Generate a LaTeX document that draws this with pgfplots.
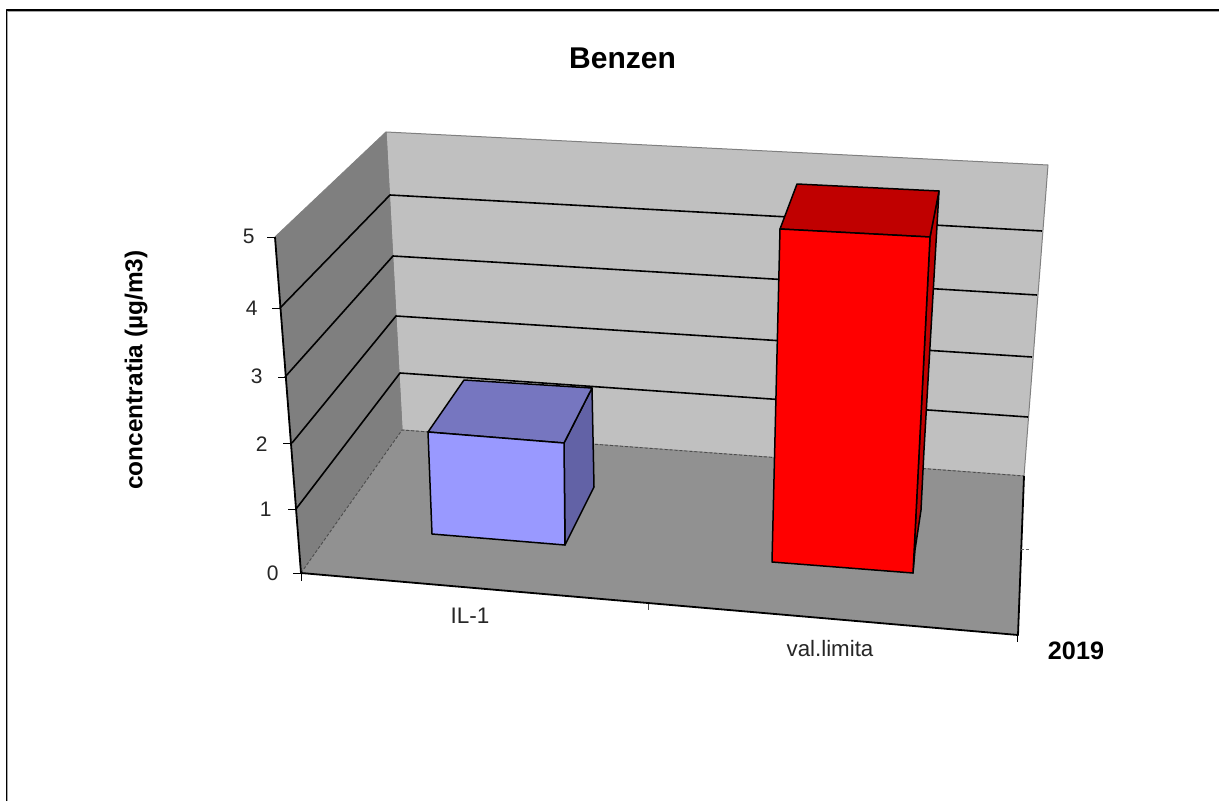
\documentclass[border=0pt]{standalone}
\usepackage{pgfplots}
\pgfplotsset{compat=1.18}
\usepackage{fontspec}
\setmainfont{Liberation Sans}
\definecolor{wallback}{HTML}{C0C0C0}
\definecolor{wallleft}{HTML}{7F7F7F}
\definecolor{floorc}{HTML}{919191}
\definecolor{blueF}{HTML}{9999FF}
\definecolor{blueT}{HTML}{7676C0}
\definecolor{blueS}{HTML}{6262A6}
\definecolor{redF}{HTML}{FF0000}
\definecolor{redT}{HTML}{C00000}
\newcommand{\fs}[1]{\fontsize{#1bp}{#1bp}\selectfont}
\begin{document}
\begin{tikzpicture}[x=1bp,y=1bp]
\begin{axis}[
  at={(0,0)}, anchor=south west,
  width=1219bp, height=801bp, scale only axis,
  xmin=0, xmax=1219, ymin=0, ymax=801, y dir=reverse,
  hide axis, clip=true,
  every axis plot/.append style={line join=round},
]
% page
\addplot[draw=none, fill=white] coordinates {(0,0)(1219,0)(1219,801)(0,801)} -- cycle;
% outer frame: open on the right and at the bottom
\addplot[gray!70, line width=1bp] coordinates {(7.7,801)(7.7,11.2)(1219,11.2)};
\addplot[black, line width=1.6bp] coordinates {(6.5,801)(6.5,10)(1219,10)};
% back wall
\addplot[draw=gray, line width=1bp, fill=wallback] coordinates {(386,132)(1048,165)(1024,476)(402,430)} -- cycle;
% left wall
\addplot[draw=gray, line width=1bp, fill=wallleft] coordinates {(275,237)(386,132)(402,430)(301,573)} -- cycle;
% floor
\addplot[draw=none, fill=floorc] coordinates {(301,573)(402,430)(1024,476)(1018,635)} -- cycle;
\addplot[black!70, line width=0.9bp, densely dashed] coordinates {(301,573)(402,430)(1024,476)};
% gridlines: back wall and left wall, levels 1..4
\addplot[black, line width=1.6bp] coordinates {(280,308)(390,195)(1042,231)};
\addplot[black, line width=1.6bp] coordinates {(285,377)(393,256)(1037,295)};
\addplot[black, line width=1.6bp] coordinates {(292,443)(396,316)(1032,357)};
\addplot[black, line width=1.6bp] coordinates {(296,509)(400,373)(1028,417)};
% axes
\addplot[black, line width=1.8bp] coordinates {(275,237)(301,573)(1018,635)(1024,476)};
% ticks
\addplot[black, line width=1bp] coordinates {(267,237)(275,237)};
\addplot[black, line width=1bp] coordinates {(272,308)(280,308)};
\addplot[black, line width=1bp] coordinates {(278,377)(285,377)};
\addplot[black, line width=1bp] coordinates {(283,443)(292,443)};
\addplot[black, line width=1bp] coordinates {(288,509)(296,509)};
\addplot[black, line width=1bp] coordinates {(293,573)(301,573)};
\addplot[black, line width=1bp] coordinates {(301,573)(301,581)};
\addplot[black!70, line width=1bp] coordinates {(648,604)(648,610)};
\addplot[black, line width=1bp] coordinates {(1017,635)(1017,642)};
\addplot[black!60, line width=0.7bp, densely dashed] coordinates {(1021,549)(1029,549)};
% IL-1 bar (about 1.5)
\addplot[draw=black, line width=1.5bp, fill=blueS] coordinates {(564,443)(592,388)(594,487)(565,545)} -- cycle;
\addplot[draw=black, line width=1.5bp, fill=blueT] coordinates {(428,432)(464,380)(592,388)(564,443)} -- cycle;
\addplot[draw=black, line width=1.5bp, fill=blueF] coordinates {(428,432)(564,443)(565,545)(432,534)} -- cycle;
% val.limita bar (5)
\addplot[draw=black, line width=1.5bp, fill=redT] coordinates {(930,237)(939,191)(924,450)(921,510)(915,550)(913,573)} -- cycle;
\addplot[draw=black, line width=1.5bp, fill=redT] coordinates {(780,229)(797,184)(939,191)(930,237)} -- cycle;
\addplot[draw=black, line width=1.5bp, fill=redF] coordinates {(780,229)(930,237)(913,573)(772,562)} -- cycle;
% texts
\node[font=\bfseries\fs{30}] at (axis cs:622.5,58) {Benzen};
\node[font=\fs{21},text=black!85,anchor=east] at (axis cs:258,236) {5};
\node[font=\fs{21},text=black!85,anchor=east] at (axis cs:261,308) {4};
\node[font=\fs{21},text=black!85,anchor=east] at (axis cs:266,376) {3};
\node[font=\fs{21},text=black!85,anchor=east] at (axis cs:271,444) {2};
\node[font=\fs{21},text=black!85,anchor=east] at (axis cs:275,509) {1};
\node[font=\fs{21},text=black!85,anchor=east] at (axis cs:282,573) {0};
\node[font=\fs{22.5},text=black!85] at (axis cs:470,616) {IL-1};
\node[font=\fs{22.3},text=black!85] at (axis cs:830,649) {val.limita};
\node[font=\bfseries\fs{25.2}] at (axis cs:1076,651) {2019};
\node[font=\bfseries\fs{24.4},rotate=90] at (axis cs:136,370) {concentratia (µg/m3)};
\end{axis}
\end{tikzpicture}
\end{document}
